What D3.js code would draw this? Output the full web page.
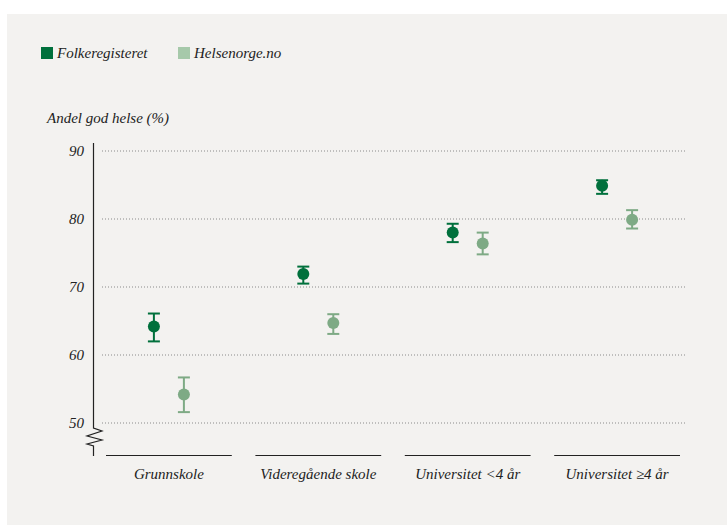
<!DOCTYPE html>
<html>
<head>
<meta charset="utf-8">
<script src="https://cdn.jsdelivr.net/npm/d3@7"></script>
<style>
  body { margin: 0; background: #fff; }
  text { font-family: "Liberation Serif", serif; font-style: italic; fill: #222; }
</style>
</head>
<body>
<svg id="chart" width="727" height="525"></svg>
<script>
// categories and series (andel god helse, %)
var categories = ["Grunnskole", "Videregående skole", "Universitet < 4 år", "Universitet ≥ 4 år"];
var seriesNames = ["Folkeregisteret", "Helsenorge.no"];
var folkValues = [64.2, 71.9, 78.0, 84.9];
var folkLow = [62.0, 70.5, 76.6, 83.7];
var folkHigh = [66.1, 73.0, 79.3, 85.7];
var helseValues = [54.2, 64.7, 76.4, 79.9];
var helseLow = [51.6, 63.1, 74.8, 78.6];
var helseHigh = [56.7, 66.0, 78.0, 81.3];
var yTicks = [50, 60, 70, 80, 90];

var colors = { dark: "#00703c", light: "#7eaa85", lightLegend: "#a6c9aa" };

var svg = d3.select("#chart");

// background panel
svg.append("rect")
	.attr("x", 7)
	.attr("y", 14)
	.attr("width", 720)
	.attr("height", 511)
	.attr("fill", "#f3f2f0");

var x = d3.scaleBand()
	.domain(categories)
	.range([106, 680])
	.paddingInner(0.158)
	.paddingOuter(0);

var y = d3.scaleLinear()
	.domain([50, 90])
	.range([423, 151]);

var offset = 15;

//legend
var legend = svg.append("g");
seriesNames.forEach(function(name, i) {
	var lx = i == 0 ? 41 : 178;
	legend.append("rect")
		.attr("x", lx)
		.attr("y", 47)
		.attr("width", 12)
		.attr("height", 12)
		.attr("fill", i == 0 ? colors.dark : colors.lightLegend);
	legend.append("text")
		.attr("x", lx + 16)
		.attr("y", 58)
		.attr("font-size", "15px")
		.text(name);
});

//axis title
svg.append("text")
	.attr("x", 47)
	.attr("y", 123)
	.attr("font-size", "15px")
	.text("Andel god helse (%)");

//grid lines
svg.append("g")
	.selectAll("line")
	.data(yTicks)
	.join("line")
	.attr("x1", 102)
	.attr("x2", 686)
	.attr("y1", function(d) { return y(d); })
	.attr("y2", function(d) { return y(d); })
	.attr("stroke", "#8a8a8a")
	.attr("stroke-width", 1)
	.attr("stroke-dasharray", "1,2");

//tick labels
svg.append("g")
	.selectAll("text")
	.data(yTicks)
	.join("text")
	.attr("x", 84)
	.attr("y", function(d) { return y(d) + 5; })
	.attr("text-anchor", "end")
	.attr("font-size", "15px")
	.text(function(d) { return d; });

//y axis with break
svg.append("path")
	.attr("d", "M93.5,143 L93.5,428 L102,431 L87,436 L102,440 L87,444 L93.5,446 L93.5,456")
	.attr("fill", "none")
	.attr("stroke", "#222")
	.attr("stroke-width", 1.2);

//category baselines and labels
var cat = svg.append("g")
	.selectAll("g")
	.data(categories)
	.join("g");

cat.append("line")
	.attr("x1", function(d) { return x(d); })
	.attr("x2", function(d) { return x(d) + x.bandwidth(); })
	.attr("y1", 455.5)
	.attr("y2", 455.5)
	.attr("stroke", "#222")
	.attr("stroke-width", 1.2);

cat.append("text")
	.attr("x", function(d) { return x(d) + x.bandwidth() / 2; })
	.attr("y", 479)
	.attr("text-anchor", "middle")
	.attr("font-size", "15px")
	.text(function(d) { return d.replace(" < ", " <").replace(" ≥ ", " ≥"); });

//points with error bars
function drawSeries(values, low, high, dx, color) {
	var g = svg.append("g");
	categories.forEach(function(c, i) {
		var cx = x(c) + x.bandwidth() / 2 + dx;
		g.append("line")
			.attr("x1", cx).attr("x2", cx)
			.attr("y1", y(low[i])).attr("y2", y(high[i]))
			.attr("stroke", color).attr("stroke-width", 2);
		[low[i], high[i]].forEach(function(v) {
			g.append("line")
				.attr("x1", cx - 6).attr("x2", cx + 6)
				.attr("y1", y(v)).attr("y2", y(v))
				.attr("stroke", color).attr("stroke-width", 2);
		});
		g.append("circle")
			.attr("cx", cx)
			.attr("cy", y(values[i]))
			.attr("r", 6)
			.attr("fill", color);
	});
}

drawSeries(folkValues, folkLow, folkHigh, -offset, colors.dark);
drawSeries(helseValues, helseLow, helseHigh, offset, colors.light);
</script>
</body>
</html>
